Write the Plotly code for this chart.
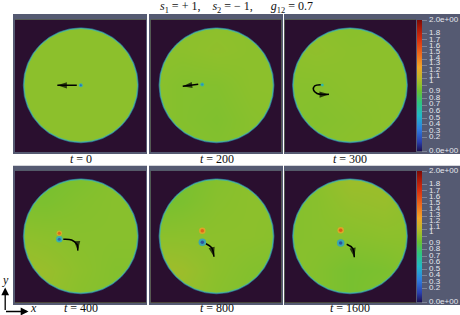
import plotly.graph_objects as go

W, H = 460, 315
BG_GRAY = "#555a72"
DARK = "#2a0f2f"
LABEL = "#e6e8ee"
SERIF = "Liberation Serif"
SANS = "Liberation Sans"

colorscale = [
    [0.00, "#1c0f50"], [0.07, "#2a3fae"], [0.17, "#2f7fe0"], [0.27, "#22b8c8"],
    [0.37, "#2fc47e"], [0.46, "#6cc032"], [0.50, "#8cc02c"], [0.56, "#bdb82a"],
    [0.64, "#f0a528"], [0.74, "#ee6a1c"], [0.85, "#d8300f"], [0.94, "#a81808"],
    [1.00, "#7a0a05"],
]

panel_titles = ["t = 0", "t = 200", "t = 300", "t = 400", "t = 800", "t = 1600"]
grid = [-1.2, -0.6, 0.0, 0.6, 1.2]

# density, rows bottom to top
field_0 = [[1.0]*5, [1.0]*5, [1.0]*5, [1.0]*5, [1.0]*5]
field_200 = [[1.0, 0.99, 0.98, 0.99, 1.0], [1.0, 0.98, 0.97, 0.99, 1.0], [1.0, 0.98, 0.98, 1.0, 1.0],
             [1.0, 1.0, 1.01, 1.0, 1.0], [1.0, 1.0, 1.0, 1.0, 1.0]]
field_300 = [[0.99, 0.99, 1.0, 1.0, 1.0], [0.99, 0.98, 0.99, 1.0, 1.0], [0.99, 0.99, 1.0, 1.0, 1.0],
             [1.0, 1.01, 1.0, 1.0, 1.0], [1.0, 1.0, 0.99, 1.0, 1.0]]
field_400 = [[1.03, 1.02, 0.99, 0.98, 0.98], [1.05, 1.03, 1.0, 0.98, 0.98], [1.01, 1.0, 0.99, 0.99, 0.99],
             [0.96, 0.96, 0.98, 0.99, 0.99], [0.95, 0.94, 0.96, 0.99, 1.0]]
field_800 = [[1.03, 1.02, 0.99, 0.97, 0.97], [1.06, 1.04, 1.0, 0.98, 0.97], [1.0, 1.0, 1.0, 1.0, 0.99],
             [0.94, 0.96, 0.99, 1.0, 1.0], [0.94, 0.95, 0.98, 1.0, 1.0]]
field_1600 = [[0.99, 0.98, 0.95, 0.98, 0.99], [1.0, 0.98, 0.95, 0.96, 0.99], [0.98, 0.99, 0.99, 1.0, 1.0],
              [0.98, 0.99, 1.02, 1.03, 1.0], [0.98, 1.0, 1.05, 1.04, 1.0]]
fields = [field_0, field_200, field_300, field_400, field_800, field_1600]

# vortex cores per panel
vortex_x = [[0.0], [-0.25], [-0.484], [-0.376, -0.376], [-0.248, -0.248], [-0.163, -0.163]]
vortex_y = [[0.0], [0.014], [0.005], [0.052, -0.052], [0.098, -0.105], [0.105, -0.117]]
vortex_core = [[0.2], [0.3], [0.5], [1.6, 0.15], [1.6, 0.1], [1.65, 0.1]]
vortex_halo = [[0.5], [0.6], [0.6], [1.25, 0.5], [1.3, 0.45], [1.3, 0.45]]
vortex_halo_size = [[4], [4], [3], [5.5, 6.5], [6.5, 7.5], [6.5, 7.5]]
vortex_core_size = [[2], [2], [1.5], [3, 3], [3.5, 3.5], [3.5, 3.5]]

# arrow tracks per panel
arrow_x = [[-0.07, -0.41], [-0.32, -0.59], [-0.512, -0.62, -0.638, -0.577, -0.455, -0.367],
           [-0.306, -0.16, -0.06, -0.054], [-0.184, -0.084, -0.044], [-0.058, 0.047, 0.075]]
arrow_y = [[0.0, 0.0], [0.02, -0.017], [0.01, -0.012, -0.082, -0.143, -0.16, -0.157],
           [-0.052, -0.065, -0.15, -0.25], [-0.13, -0.2, -0.357], [-0.14, -0.21, -0.367]]

tick_values = [0.0, 0.2, 0.3, 0.4, 0.5, 0.6, 0.7, 0.8, 0.9, 1.0, 1.1, 1.2, 1.3, 1.4, 1.5, 1.6, 1.7, 1.8, 2.0]
label_text = ["0.0e+00", "0.2", "0.3", "0.4", "0.5", "0.6", "0.7", "0.8", "0.9", "1", "1.1", "1.2",
              "1.3", "1.4", "1.5", "1.6", "1.7", "1.8", "2.0e+00"]
# label heights (px below the top of the bar), as drawn in the picture
label_offset = [131, 117, 110.5, 104, 97.5, 91, 84.5, 78, 71.5, 61, 55.5, 49.5, 43.5, 37.5, 32, 26, 19.5, 13, 0]

# pixel layout
dark_x = [(15, 146), (150.5, 281.5), (284.5, 416)]
center_x = [80.8, 216.5, 350.0]
rows = [dict(frame=(14, 154), dark=(19.5, 152), cy=85.3, label=158.5),
        dict(frame=(165.7, 305), dark=(170.7, 302.7), cy=236.3, label=308)]
frame_x = [(13, 147), (149, 283), (284, 460)]
R = 57.2

fig = go.Figure()
shapes, annots = [], []


def px(v):
    return v / W


def py(v):
    return 1 - v / H


K = 0.5523
hole = (f"M 1 0 C 1 {-K}, {K} -1, 0 -1 C {-K} -1, -1 {-K}, -1 0 "
        f"C -1 {K}, {-K} 1, 0 1 C {K} 1, 1 {K}, 1 0 Z")

for i, title in enumerate(panel_titles):
    r, c = i // 3, i % 3
    row = rows[r]
    n = i + 1
    sfx = "" if n == 1 else str(n)
    ca = "coloraxis" if r == 0 else "coloraxis2"
    x0, x1 = dark_x[c]
    y0, y1 = row["dark"]
    cx, cy = center_x[c], row["cy"]
    xr = [(x0 - cx) / R, (x1 - cx) / R]
    yr = [(cy - y1) / R, (cy - y0) / R]
    fig.update_layout({
        f"xaxis{sfx}": dict(domain=[px(x0), px(x1)], range=xr, visible=False, anchor=f"y{sfx}", fixedrange=True),
        f"yaxis{sfx}": dict(domain=[py(y1), py(y0)], range=yr, visible=False, anchor=f"x{sfx}", fixedrange=True),
    })
    fig.add_trace(go.Heatmap(x=grid, y=grid, z=fields[i], coloraxis=ca, zsmooth="best",
                             xaxis=f"x{sfx}", yaxis=f"y{sfx}", hoverinfo="skip"))
    # frame
    fx0, fx1 = frame_x[c]
    fy0, fy1 = row["frame"]
    shapes.append(dict(type="rect", xref="paper", yref="paper", x0=px(fx0), x1=px(fx1), y0=py(fy1), y1=py(fy0),
                       fillcolor=BG_GRAY, line=dict(width=0), layer="below"))
    # dark mask round the disc
    outer = f"M {xr[0]} {yr[0]} L {xr[0]} {yr[1]} L {xr[1]} {yr[1]} L {xr[1]} {yr[0]} Z "
    shapes.append(dict(type="path", xref=f"x{sfx}", yref=f"y{sfx}", path=outer + hole, fillcolor=DARK,
                       line=dict(width=0), layer="above"))
    shapes.append(dict(type="circle", xref=f"x{sfx}", yref=f"y{sfx}", x0=-1.005, x1=1.005, y0=-1.005, y1=1.005,
                       line=dict(color="#2a6fa8", width=0.8), layer="above"))
    shapes.append(dict(type="circle", xref=f"x{sfx}", yref=f"y{sfx}", x0=-0.992, x1=0.992, y0=-0.992, y1=0.992,
                       line=dict(color="#3fb8a8", width=0.8), layer="above"))
    # vortices
    fig.add_trace(go.Scatter(x=vortex_x[i], y=vortex_y[i], mode="markers", xaxis=f"x{sfx}", yaxis=f"y{sfx}",
                             marker=dict(size=vortex_halo_size[i], color=vortex_halo[i], coloraxis=ca,
                                         opacity=0.8, line=dict(width=0)), hoverinfo="skip"))
    fig.add_trace(go.Scatter(x=vortex_x[i], y=vortex_y[i], mode="markers", xaxis=f"x{sfx}", yaxis=f"y{sfx}",
                             marker=dict(size=vortex_core_size[i], color=vortex_core[i], coloraxis=ca,
                                         line=dict(width=0)), hoverinfo="skip"))
    # arrow
    fig.add_trace(go.Scatter(x=arrow_x[i], y=arrow_y[i], mode="lines", xaxis=f"x{sfx}", yaxis=f"y{sfx}",
                             line=dict(color="black", width=1.5, shape="spline", smoothing=1.0), hoverinfo="skip"))
    fig.add_trace(go.Scatter(x=arrow_x[i][-2:], y=arrow_y[i][-2:], mode="markers", xaxis=f"x{sfx}", yaxis=f"y{sfx}",
                             marker=dict(symbol="arrow", size=[0, 10], angleref="previous", color="black",
                                         line=dict(width=0)), hoverinfo="skip"))
    # t label
    name, val = title.split(" = ")
    annots.append(dict(xref="paper", yref="paper", x=px(cx), y=py(row["label"]), showarrow=False, xanchor="center",
                       yanchor="middle", borderpad=0, text=f"<i>{name}</i> = {val}",
                       font=dict(family=SERIF, size=12, color="#111")))
    # colorbar labels
    if c == 2:
        for txt, off in zip(label_text, label_offset):
            annots.append(dict(xref="paper", yref="paper", x=px(427), y=py(y0 + off), showarrow=False,
                               xanchor="left", yanchor="middle", text=txt, font=dict(family=SANS, size=8, color=LABEL)))


def cbar(y0, y1):
    return dict(x=px(417), xanchor="left", xref="paper", y=py(y1), yanchor="bottom", yref="paper",
                len=(y1 - y0) / H, lenmode="fraction", thickness=5, thicknessmode="pixels",
                outlinewidth=0, borderwidth=0, bgcolor="rgba(0,0,0,0)", ypad=0, xpad=0,
                tickmode="array", tickvals=tick_values, showticklabels=False,
                ticks="outside", ticklen=5, tickwidth=1, tickcolor="#7d8296")


fig.update_layout(
    width=W, height=H, autosize=False, margin=dict(l=0, r=0, t=0, b=0, pad=0), showlegend=False,
    paper_bgcolor="white", plot_bgcolor=DARK,
    coloraxis=dict(colorscale=colorscale, cmin=0, cmax=2, colorbar=cbar(20, 151)),
    coloraxis2=dict(colorscale=colorscale, cmin=0, cmax=2, colorbar=cbar(171, 302)),
)

annots.append(dict(xref="paper", yref="paper", x=px(236), y=py(6.5), showarrow=False, xanchor="center", yanchor="middle",
                   text="<i>s</i><sub>1</sub> = + 1,    <i>s</i><sub>2</sub> = − 1,      <i>g</i><sub>12</sub> = 0.7",
                   font=dict(family=SERIF, size=12, color="#111")))
# xy axes indicator
annots.append(dict(xref="paper", yref="paper", axref="pixel", ayref="pixel", x=px(5.2), y=py(287.5), ax=0, ay=24,
                   text="", showarrow=True, arrowhead=2, arrowsize=1.2, arrowwidth=1.3, arrowcolor="black"))
annots.append(dict(xref="paper", yref="paper", axref="pixel", ayref="pixel", x=px(28.5), y=py(311.5), ax=-24, ay=0,
                   text="", showarrow=True, arrowhead=2, arrowsize=1.2, arrowwidth=1.3, arrowcolor="black"))
annots.append(dict(xref="paper", yref="paper", x=px(5.2), y=py(279.5), showarrow=False, xanchor="center", yanchor="middle",
                   text="<i>y</i>", font=dict(family=SERIF, size=12, color="#111")))
annots.append(dict(xref="paper", yref="paper", x=px(33), y=py(308), showarrow=False, xanchor="center", yanchor="middle",
                   text="<i>x</i>", font=dict(family=SERIF, size=12, color="#111")))

fig.update_layout(shapes=shapes, annotations=annots)
fig.write_html("out.html", config=dict(displayModeBar=False),
               post_script="document.body.style.margin='0';document.documentElement.style.overflow='hidden';")
